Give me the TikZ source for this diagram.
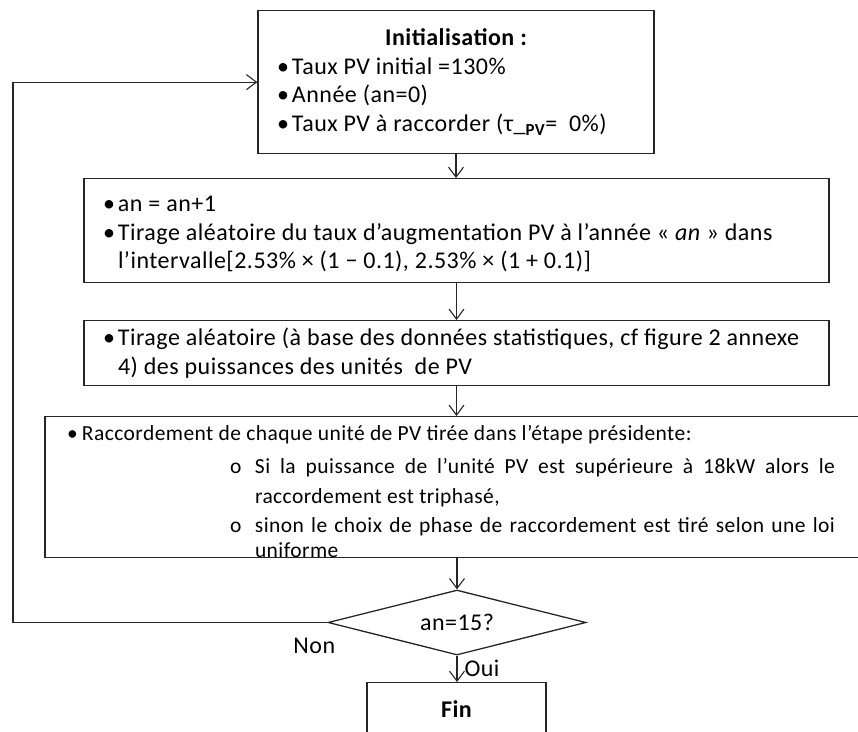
\documentclass[tikz,border=0pt]{standalone}
\usepackage{fontspec}
\setmainfont{Carlito}[LetterSpace=2]
\usetikzlibrary{positioning,shapes.geometric,arrows.meta}
\newcommand{\puce}{\makebox[15pt][l]{•}}
\newcommand{\souspuce}{\hspace*{163pt}\makebox[25pt][l]{o}}
\tikzset{
  boite/.style={draw=black!85, line width=1.3pt, anchor=north, inner xsep=19pt, inner ysep=0pt, align=flush left},
  fleche/.style={draw=black!85, line width=1.1pt, -{Straight Barb[length=10pt,width=15pt]}},
}
\begin{document}
\begin{tikzpicture}[x=1pt, y=-1pt, font=\fontsize{24}{28.5}\selectfont]
    \useasboundingbox (0,0) rectangle (858,731);
    %Etapes
    \node[boite, text width=358pt, minimum height=143pt] (init) at (456,10) {%
        \makebox[\linewidth][c]{\bfseries Initialisation :}\\
        \puce Taux PV initial =130\%\\
        \puce Année (an=0)\\
        \puce Taux PV à raccorder (τ\_\textsubscript{\bfseries PV}=~~0\%)};
    \node[boite, text width=707pt, text height=33pt, text depth=71pt] (incr) at (456.5,178) {%
        \puce an = an+1\\
        \puce Tirage aléatoire du taux d’augmentation PV à l’année «~\textit{an}~» dans\\
        \hspace*{15pt}l’intervalle[2.53\% × (1 − 0.1), 2.53\% × (1 + 0.1)]};
    \node[boite, text width=707pt, minimum height=65pt] (tirage) at (456.5,320) {%
        \puce Tirage aléatoire (à base des données statistiques, cf figure 2 annexe\\
        \hspace*{15pt}4) des puissances des unités~ de PV};
    \node[boite, inner xsep=22pt, text width=780pt, text height=23.5pt, text depth=117.5pt,
          font=\fontsize{21.5}{29.5}\selectfont] (racc) at (457,416) {%
        \puce Raccordement de chaque unité de PV tirée dans l’étape présidente:\\[4pt]
        \souspuce\makebox[580pt][s]{Si la puissance de l’unité PV est supérieure à 18kW alors le}\\
        \hspace*{188pt}raccordement est triphasé,\\
        \souspuce\makebox[580pt][s]{sinon le choix de phase de raccordement est tiré selon une loi}\\[-5pt]
        \hspace*{188pt}uniforme};
    %Test et fin
    \node[draw=black!85, line width=1.3pt, diamond, aspect=4, minimum width=258pt, minimum height=65pt, inner sep=0pt] (test) at (457,622.5) {an=15?};
    \node[boite, inner xsep=0pt, text width=179pt, align=center, minimum height=52pt, font=\fontsize{24}{28.5}\selectfont\bfseries] (fin) at (456.5,682) {Fin};
    \node[below=12pt of test.west, xshift=-13pt] (non) {Non};
    \node[below right=1pt and 4pt of test.south] (oui) {Oui};
    %Fleches
    \draw[fleche] (init.south) -- (init.south |- incr.north);
    \draw[fleche] (incr.south) -- (incr.south |- tirage.north);
    \draw[fleche] (tirage.south) -- (tirage.south |- racc.north);
    \draw[fleche] (racc.south) -- (racc.south |- test.north);
    \draw[fleche] (test.south) -- (test.south |- fin.north);
    %Retour
    \coordinate (bord) at (13,300);
    \draw[fleche] (test.west) -| (bord) |- (init.west);
\end{tikzpicture}
\end{document}
